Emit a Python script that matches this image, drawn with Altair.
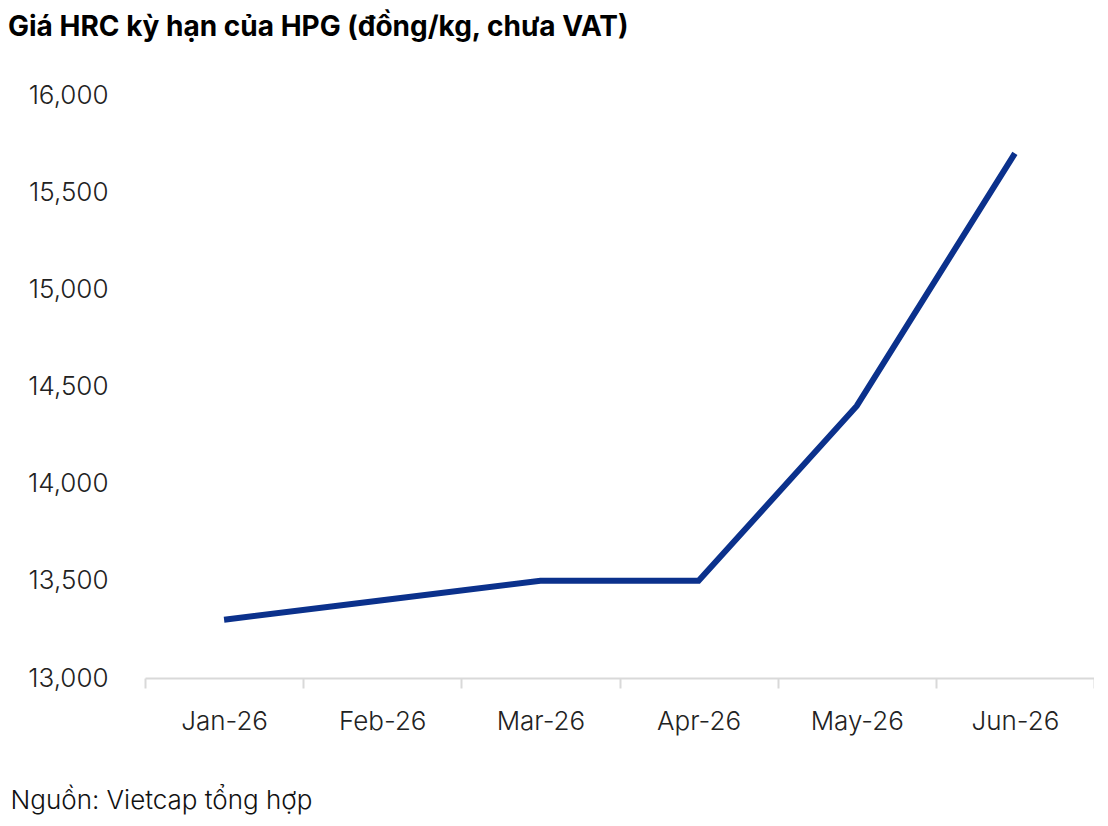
import altair as alt
import pandas as pd

months = ["Jan-26", "Feb-26", "Mar-26", "Apr-26", "May-26", "Jun-26"]
prices = [13300, 13400, 13500, 13500, 14400, 15700]
y_ticks = [13000, 13500, 14000, 14500, 15000, 15500, 16000]

title_text = "Giá HRC kỳ hạn của HPG (đồng/kg, chưa VAT)"
source_text = "Nguồn: Vietcap tổng hợp"

df = pd.DataFrame({"month": months, "price": prices})

FONT = "Inter"

chart = alt.Chart(df).mark_line(
    color="#0B318C", strokeWidth=6, strokeJoin="miter", strokeCap="butt"
).encode(
    x=alt.X(
        "month:N",
        sort=months,
        scale=alt.Scale(type="band", paddingInner=0, paddingOuter=0),
        axis=alt.Axis(
            title=source_text,
            titleFont=FONT,
            titleFontSize=26,
            titleFontWeight=300,
            titleColor="#111111",
            titleAnchor="start",
            titleAlign="left",
            titleBaseline="alphabetic",
            titleX=-135,
            titleY=130,
            labelAngle=0,
            labelFont=FONT,
            labelFontSize=26,
            labelFontWeight=300,
            labelColor="#222222",
            labelPadding=20,
            tickBand="extent",
            tickSize=10,
            tickColor="#d9d9d9",
            tickWidth=2,
            domainColor="#d9d9d9",
            domainWidth=2,
            grid=False,
        ),
    ),
    y=alt.Y(
        "price:Q",
        scale=alt.Scale(domain=[13000, 16000], nice=False, zero=False),
        axis=alt.Axis(
            title=None,
            values=y_ticks,
            format=",.0f",
            labelFont=FONT,
            labelFontSize=26,
            labelFontWeight=300,
            labelColor="#222222",
            labelPadding=37,
            ticks=False,
            domain=False,
            grid=False,
        ),
    ),
).properties(
    width=949,
    height=583,
    title=alt.TitleParams(
        text=title_text,
        font=FONT,
        fontSize=28,
        fontWeight="bold",
        color="#000000",
        anchor="start",
        frame="group",
        dx=-137,
        offset=40,
    ),
    autosize=alt.AutoSizeParams(type="none"),
    padding={"left": 137, "top": 87, "right": 0, "bottom": 139},
).configure_view(stroke=None)

chart.save("out.html", embed_options={"renderer": "svg", "actions": False})
